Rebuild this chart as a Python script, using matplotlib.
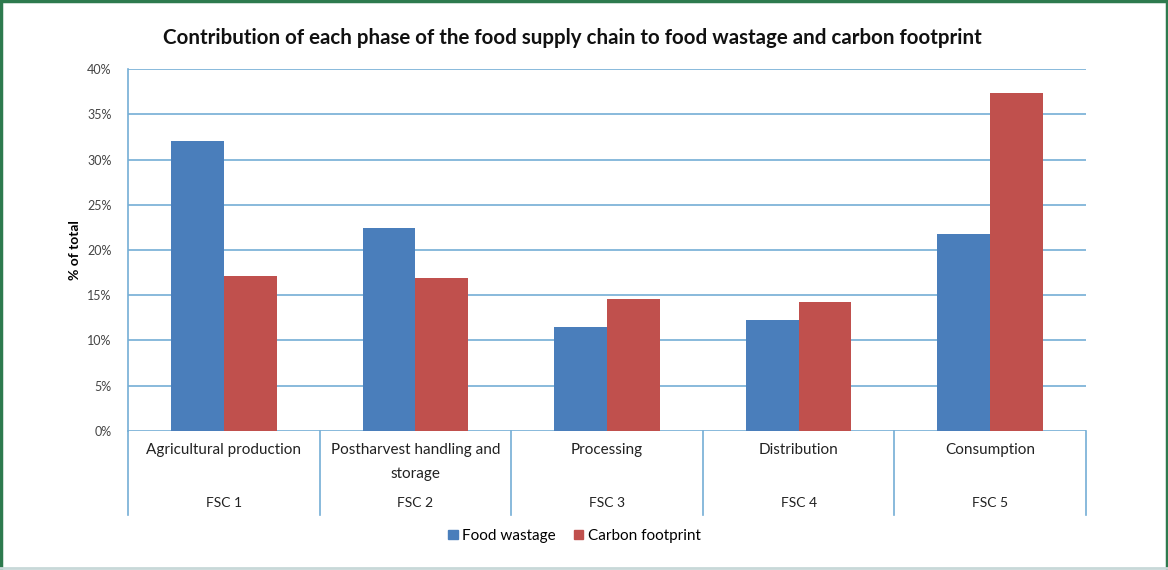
import matplotlib
matplotlib.use("Agg")
import matplotlib.pyplot as plt
from matplotlib.lines import Line2D
from matplotlib.patches import Patch
import numpy as np

plt.rcParams['font.family'] = ['Lato', 'DejaVu Sans']

phases = ["Agricultural production", "Postharvest handling and\nstorage",
          "Processing", "Distribution", "Consumption"]
fsc_labels = ["FSC 1", "FSC 2", "FSC 3", "FSC 4", "FSC 5"]
food_wastage = [32.0, 22.4, 11.5, 12.3, 21.8]
carbon_footprint = [17.1, 16.9, 14.6, 14.3, 37.3]

blue = '#4a7ebb'
red = '#c0504d'
grid_col = '#74aed6'

fig = plt.figure(figsize=(11.68, 5.70), dpi=100)
ax = fig.add_axes([0.1096, 0.2439, 0.8202, 0.635])

x = np.arange(len(phases))
w = 0.276
ax.bar(x - w / 2, food_wastage, w, color=blue, label="Food wastage", zorder=3)
ax.bar(x + w / 2, carbon_footprint, w, color=red, label="Carbon footprint", zorder=3)

ax.set_xlim(-0.5, len(phases) - 0.5)
ax.set_ylim(0, 40)
ax.set_yticks(np.arange(0, 41, 5))
ax.set_yticklabels([f"{v}%" for v in range(0, 41, 5)], fontsize=9, color='#444444')
ax.yaxis.grid(True, color=grid_col, linewidth=1.2, zorder=0)
ax.tick_params(axis='y', length=0, pad=12)
ax.set_xticks([])
for s in ['top', 'right', 'bottom']:
    ax.spines[s].set_visible(False)
ax.spines['left'].set_color(grid_col)
ax.spines['left'].set_linewidth(1.2)
ax.set_ylabel("% of total", fontsize=10, fontweight='bold', labelpad=4)

# category separators below the axis
trans = ax.get_xaxis_transform()
for b in np.arange(-0.5, len(phases), 1.0):
    ax.plot([b, b], [0, -0.232], transform=trans, color=grid_col,
            linewidth=1.2, clip_on=False)

for i in range(len(phases)):
    ax.text(x[i], -0.033, phases[i], transform=trans, ha='center', va='top',
            fontsize=11, color='#222222', linespacing=1.95)
    ax.text(x[i], -0.2, fsc_labels[i], transform=trans, ha='center', va='center',
            fontsize=10, color='#222222')

fig.text(0.490, 0.933, "Contribution of each phase of the food supply chain to food wastage and carbon footprint",
         ha='center', va='center', fontsize=14.8, fontweight='bold', color='#111111')

handles = [Patch(color=blue), Patch(color=red)]
fig.legend(handles, ["Food wastage", "Carbon footprint"], loc='center',
           bbox_to_anchor=(0.492, 0.06), ncol=2, frameon=False, fontsize=11,
           handlelength=0.6, handleheight=0.6, handletextpad=0.3, columnspacing=1.2)

# outer frame
fc = '#2e7a4e'
fig.add_artist(Line2D([0.001, 0.001], [0, 1], color=fc, linewidth=2.5, transform=fig.transFigure))
fig.add_artist(Line2D([0.999, 0.999], [0, 1], color=fc, linewidth=2.5, transform=fig.transFigure))
fig.add_artist(Line2D([0, 1], [0.998, 0.998], color=fc, linewidth=2.5, transform=fig.transFigure))
fig.add_artist(Line2D([0, 1], [0.004, 0.004], color='#c8d8d8', linewidth=2, transform=fig.transFigure))

fig.savefig("out.png", dpi=100)
